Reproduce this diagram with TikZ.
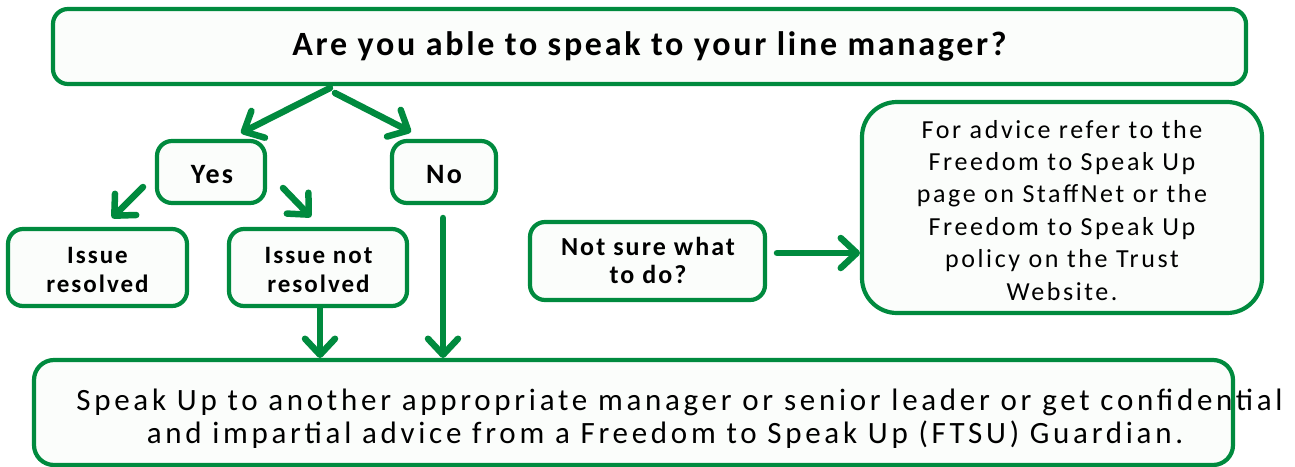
\documentclass[tikz,border=0pt]{standalone}
\usepackage{fontspec}
\setmainfont{Carlito}
\newfontfamily\topfont[LetterSpace=8]{Carlito}
\newfontfamily\labfont[LetterSpace=8]{Carlito}
\newfontfamily\bodyfont[LetterSpace=10]{Carlito}
\newfontfamily\botfont[LetterSpace=12]{Carlito}
\usetikzlibrary{arrows.meta}
\definecolor{nhsgreen}{RGB}{0,138,62}
\definecolor{boxfill}{RGB}{251,253,251}
\tikzset{
  box/.style={draw=nhsgreen, line width=4.2pt, fill=boxfill, rounded corners=15pt, inner sep=0pt, align=center},
  conn/.style={draw=nhsgreen, line width=6.5pt, line cap=round, -{Straight Barb[length=16pt,width=30pt,round]}},
  lbl/.style={anchor=base, inner sep=0pt, align=center},
}
\begin{document}
\begin{tikzpicture}[x=1pt,y=-1pt]
\useasboundingbox (0,0) rectangle (1295,466);
% boxes (multi-line labels are placed by the baseline of their last line)
\node[box, minimum width=1193pt, minimum height=75pt] (q) at (649.5,46.5) {};
\node[lbl, font=\topfont\bfseries\fontsize{34}{40}\selectfont] (qt) at (649.5,55) {Are you able to speak to your line manager?};
\node[box, minimum width=108pt, minimum height=62pt] (yes) at (211,172) {};
\node[lbl, font=\labfont\bfseries\fontsize{28}{32}\selectfont] (yest) at (212,183) {Yes};
\node[box, minimum width=104pt, minimum height=62pt] (no) at (444,172) {};
\node[lbl, font=\labfont\bfseries\fontsize{28}{32}\selectfont] (not) at (444,183) {No};
\node[box, minimum width=179pt, minimum height=77pt] (ir) at (97.5,267.5) {};
\node[lbl, font=\labfont\bfseries\fontsize{25}{28.5}\selectfont] (irt) at (97.5,292) {Issue\\resolved};
\node[box, minimum width=178pt, minimum height=77pt] (inr) at (318,267.5) {};
\node[lbl, font=\labfont\bfseries\fontsize{25}{28.5}\selectfont] (inrt) at (318.5,292) {Issue not\\resolved};
\node[box, minimum width=235pt, minimum height=78pt] (ns) at (647.5,261) {};
\node[lbl, font=\labfont\bfseries\fontsize{26}{28}\selectfont] (nst) at (648,283) {Not sure what\\to do?};
\node[box, rounded corners=35pt, minimum width=400pt, minimum height=211pt] (adv) at (1062,207.5) {};
\node[lbl, font=\bodyfont\fontsize{26}{32.4}\selectfont] (advt) at (1062,300) {For advice refer to the\\Freedom to Speak Up\\page on StaffNet or the\\Freedom to Speak Up\\policy on the Trust\\Website.};
\node[box, rounded corners=20pt, minimum width=1199pt, minimum height=105pt] (bot) at (633.5,412.5) {};
\node[lbl, font=\botfont\fontsize{31}{33}\selectfont] (bott) at (679.5,443) {Speak Up to another appropriate manager or senior leader or get confidential\\and impartial advice from a Freedom to Speak Up (FTSU) Guardian.\hspace*{29pt}};
% connector coordinates
\coordinate (qs1) at (330,88);
\coordinate (yesin) at (241,133);
\coordinate (qs2) at (335,93);
\coordinate (noin) at (411,132);
\coordinate (yess1) at (143,187);
\coordinate (irin) at (112,218);
\coordinate (yess2) at (283,188);
\coordinate (inrin) at (311,217);
\coordinate (inrs) at (320,308);
\coordinate (botin1) at (320,358);
\coordinate (nos) at (443,218);
\coordinate (botin2) at (443,358);
\coordinate (nss) at (777,253);
\coordinate (advin) at (860,253);
\draw[conn] (qs1) -- (yesin);
\draw[conn] (qs2) -- (noin);
\draw[conn] (yess1) -- (irin);
\draw[conn] (yess2) -- (inrin);
\draw[conn] (inrs) -- (botin1);
\draw[conn] (nos) -- (botin2);
\draw[conn] (nss) -- (advin);
\end{tikzpicture}
\end{document}
